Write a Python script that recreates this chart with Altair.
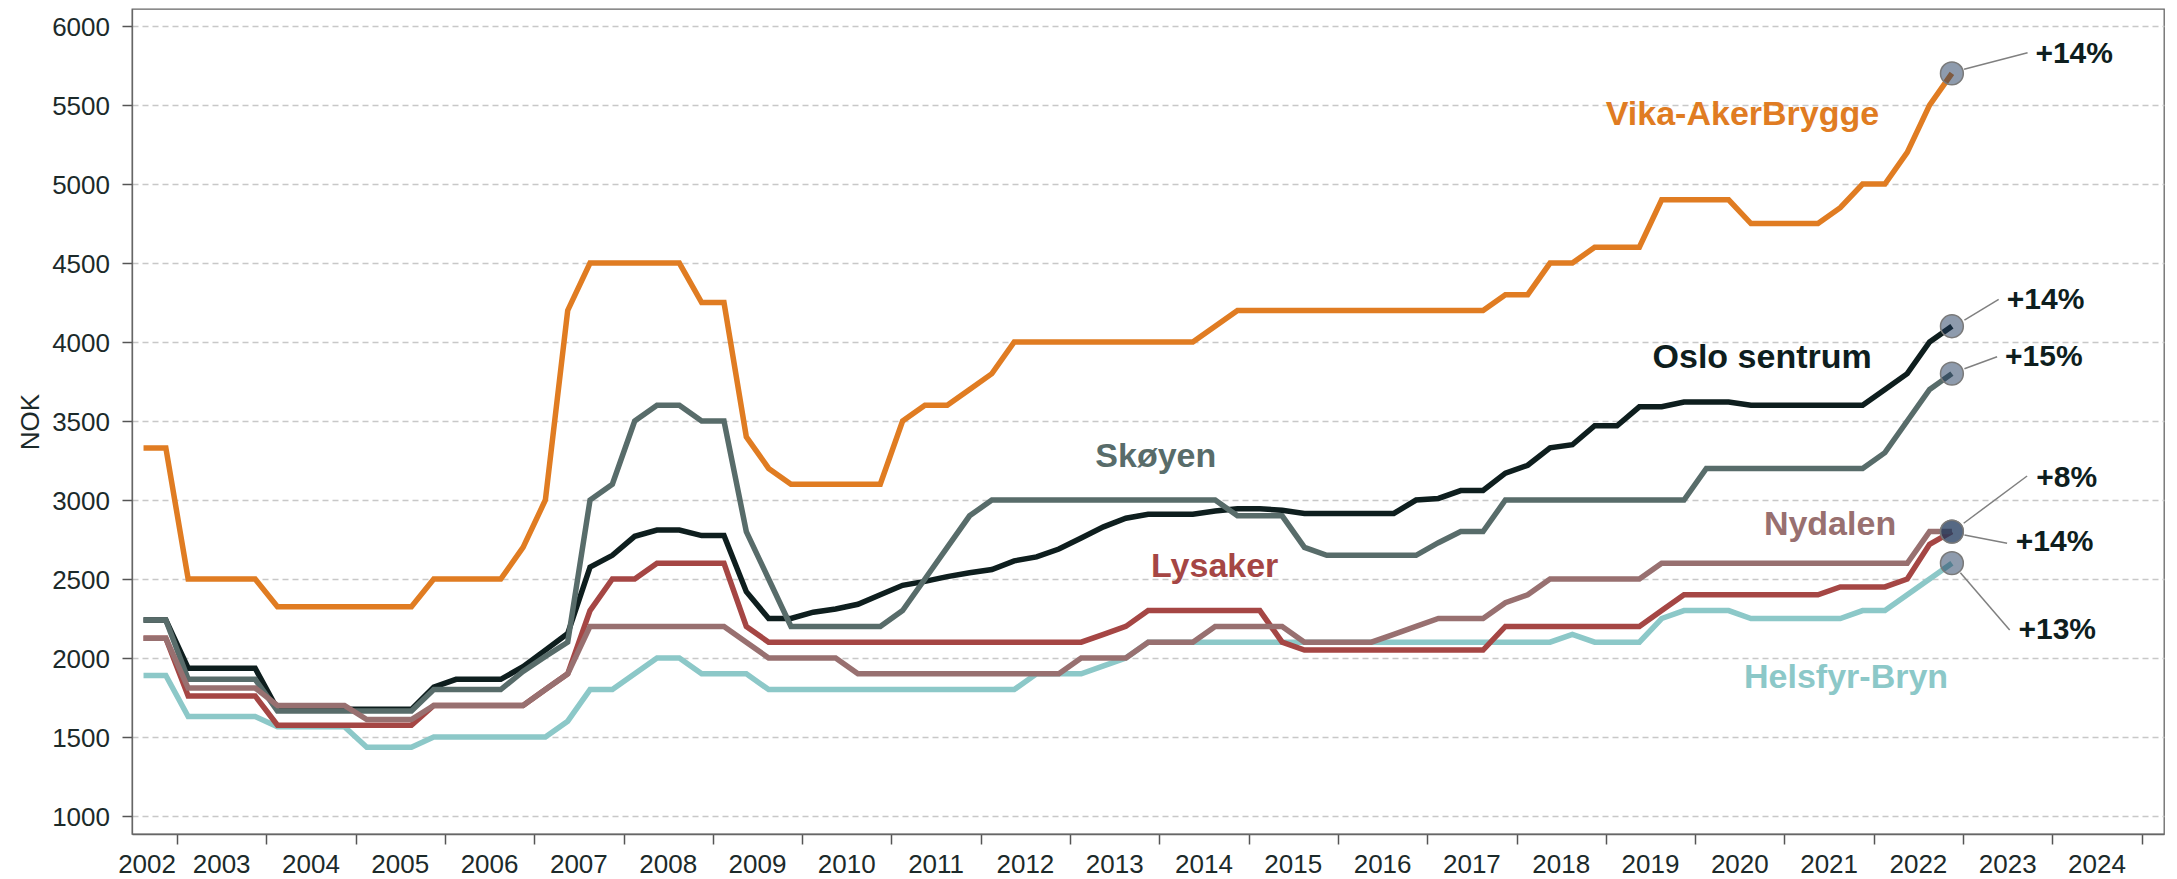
import altair as alt
import pandas as pd

# ---------------- data (quarterly, 2002Q3 .. 2022Q4) ----------------
periods = [(2002, 3), (2002, 4)] + [(y, q) for y in range(2003, 2023) for q in range(1, 5)]

vika = [3330, 3330,
        2500, 2500, 2500, 2500,
        2325, 2325, 2325, 2325, 2325, 2325, 2325,
        2500, 2500, 2500, 2500,
        2700, 3000, 4200,
        4500, 4500, 4500, 4500, 4500,
        4250, 4250, 3400, 3200,
        3100, 3100, 3100, 3100, 3100,
        3500, 3600, 3600, 3700, 3800,
        4000, 4000, 4000, 4000, 4000, 4000, 4000, 4000, 4000,
        4100,
        4200, 4200, 4200, 4200, 4200, 4200, 4200, 4200, 4200, 4200, 4200, 4200,
        4300, 4300, 4500, 4500, 4600, 4600, 4600,
        4900, 4900, 4900, 4900,
        4750, 4750, 4750, 4750,
        4850, 5000, 5000, 5200, 5500, 5700]

oslo = [2240, 2240,
        1935, 1935, 1935, 1935,
        1675, 1675, 1675, 1675, 1675, 1675, 1675,
        1815, 1865, 1865, 1865, 1945, 2050, 2155,
        2575, 2650, 2770, 2810, 2810, 2775, 2775, 2420,
        2250, 2250, 2290, 2310, 2340, 2400, 2460, 2485, 2515, 2540,
        2560, 2615, 2640, 2690, 2760, 2830, 2885, 2910, 2910, 2910,
        2930, 2945, 2945, 2935, 2915, 2915, 2915, 2915, 2915, 3000,
        3010, 3060, 3060, 3170, 3220, 3330, 3350, 3470, 3470, 3590,
        3590, 3620, 3620, 3620,
        3600, 3600, 3600, 3600, 3600, 3600,
        3700, 3800, 4000, 4100]

skoyen = [2240, 2240,
          1865, 1865, 1865, 1865,
          1665, 1665, 1665, 1665, 1665, 1665, 1665,
          1800, 1800, 1800, 1800,
          1915, 2010, 2100,
          3000, 3100, 3500, 3600, 3600, 3500, 3500,
          2800, 2500,
          2200, 2200, 2200, 2200, 2200,
          2300, 2500, 2700, 2900,
          3000, 3000, 3000, 3000, 3000, 3000, 3000, 3000, 3000, 3000, 3000,
          2900, 2900, 2900, 2700,
          2650, 2650, 2650, 2650, 2650,
          2730, 2800, 2800,
          3000, 3000, 3000, 3000, 3000, 3000, 3000, 3000, 3000,
          3200, 3200, 3200, 3200, 3200, 3200, 3200, 3200,
          3300, 3500, 3700, 3800]

lysaker = [2125, 2125,
           1760, 1760, 1760, 1760,
           1575, 1575, 1575, 1575, 1575, 1575, 1575,
           1700, 1700, 1700, 1700, 1700,
           1800, 1900, 2300, 2500, 2500,
           2600, 2600, 2600, 2600, 2200,
           2100, 2100, 2100, 2100, 2100, 2100, 2100, 2100, 2100, 2100,
           2100, 2100, 2100, 2100, 2100,
           2150, 2200,
           2300, 2300, 2300, 2300, 2300, 2300,
           2100,
           2050, 2050, 2050, 2050, 2050, 2050, 2050, 2050, 2050,
           2200, 2200, 2200, 2200, 2200, 2200, 2200,
           2300,
           2400, 2400, 2400, 2400, 2400, 2400, 2400,
           2450, 2450, 2450, 2500, 2720, 2800]

nydalen = [2125, 2125,
           1810, 1810, 1810, 1810,
           1700, 1700, 1700, 1700,
           1610, 1610, 1610,
           1700, 1700, 1700, 1700, 1700,
           1800, 1900,
           2200, 2200, 2200, 2200, 2200, 2200, 2200,
           2100,
           2000, 2000, 2000, 2000,
           1900, 1900, 1900, 1900, 1900, 1900, 1900, 1900, 1900, 1900,
           2000, 2000, 2000,
           2100, 2100, 2100,
           2200, 2200, 2200, 2200,
           2100, 2100, 2100, 2100,
           2150, 2200, 2250, 2250, 2250, 2350, 2400,
           2500, 2500, 2500, 2500, 2500,
           2600, 2600, 2600, 2600, 2600, 2600, 2600, 2600, 2600, 2600, 2600, 2600,
           2800, 2800]

helsfyr = [1890, 1890,
           1630, 1630, 1630, 1630,
           1565, 1565, 1565, 1565,
           1435, 1435, 1435,
           1500, 1500, 1500, 1500, 1500, 1500,
           1600, 1800, 1800, 1900, 2000, 2000,
           1900, 1900, 1900,
           1800, 1800, 1800, 1800, 1800, 1800, 1800, 1800, 1800, 1800, 1800, 1800,
           1900, 1900, 1900, 1950, 2000,
           2100, 2100, 2100, 2100, 2100, 2100, 2100, 2100, 2100, 2100,
           2100, 2100, 2100, 2100, 2100, 2100, 2100, 2100, 2100,
           2150, 2100, 2100, 2100,
           2250, 2300, 2300, 2300,
           2250, 2250, 2250, 2250, 2250,
           2300, 2300, 2400, 2500, 2600]

names = ["Vika-AkerBrygge", "Oslo sentrum", "Skøyen", "Helsfyr-Bryn", "Lysaker", "Nydalen"]
values = [vika, oslo, skoyen, helsfyr, lysaker, nydalen]
colors = ["#E07C22", "#0E1E1E", "#586C6A", "#8CC8C8", "#A54644", "#987070"]

for v in values:
    assert len(v) == len(periods), len(v)

# series name labels (anchor in data space)
name_t = [2020.53, 2020.75, 2013.96, 2021.69, 2014.62, 2021.51]
name_v = [5373, 3833, 3211, 1808, 2515, 2778]

# change annotations
pct_text = ["+14%", "+14%", "+15%", "+13%", "+14%", "+8%"]
lead_t1 = [2023.011, 2023.015, 2023.015, 2022.970, 2023.015, 2023.007]
lead_v1 = [5726, 4139, 3831, 2540, 2778, 2853]
lead_t2 = [2023.722, 2023.399, 2023.381, 2023.522, 2023.493, 2023.717]
lead_v2 = [5831, 4270, 3907, 2177, 2726, 3152]
pct_t = [2023.81, 2023.49, 2023.47, 2023.62, 2023.59, 2023.82]
pct_v = [5823, 4264, 3907, 2177, 2736, 3142]

year_labels = list(range(2002, 2025))

# ---------------- build tables ----------------
rows = []
for n, vals in zip(names, values):
    for (y, q), val in zip(periods, vals):
        rows.append({"series": n, "t": y + (q - 0.5) / 4, "v": val})
df = pd.DataFrame(rows)

end_df = pd.DataFrame({
    "series": names,
    "t": [periods[-1][0] + (periods[-1][1] - 0.5) / 4] * len(names),
    "v": [vals[-1] for vals in values],
})
lead_df = pd.DataFrame({"t": lead_t1, "v": lead_v1, "t2": lead_t2, "v2": lead_v2})
pct_df = pd.DataFrame({"t": pct_t, "v": pct_v, "label": pct_text})

W, H = 2032, 825
TXT = "#1C2A2A"

xscale = alt.Scale(domain=[2002.496, 2025.25], nice=False, zero=False)
yscale = alt.Scale(domain=[886, 6108], nice=False, zero=False)

x_axis = alt.Axis(values=list(range(2003, 2026)), labels=False, ticks=True, tickSize=10,
                  tickColor="#555555", tickWidth=1.5, domain=True, domainColor="#666666",
                  domainWidth=1.3, grid=False, title=None)
y_axis = alt.Axis(values=list(range(1000, 6001, 500)), format="d", grid=True, gridDash=[6, 4],
                  gridColor="#C8C8C8", gridWidth=1.7, labelFontSize=26, labelColor=TXT,
                  labelPadding=12.5, labelOffset=1.5, tickSize=10, tickColor="#555555",
                  tickWidth=1.5, domain=True, domainColor="#666666", domainWidth=1.3,
                  title="NOK", titleFontSize=26, titleFontWeight="normal", titleColor=TXT,
                  titleAngle=270, titleX=-94, titleY=412.5, titleAlign="center",
                  titleBaseline="alphabetic")

X = alt.X("t:Q", scale=xscale, axis=x_axis)
Y = alt.Y("v:Q", scale=yscale, axis=y_axis)

layers = []
for n, c in zip(names, colors):
    layers.append(
        alt.Chart(df[df.series == n]).mark_line(strokeWidth=5.5, color=c, strokeJoin="miter")
        .encode(x=X, y=Y)
    )

leaders = alt.Chart(lead_df).mark_rule(color="#808080", strokeWidth=1.5).encode(
    x=X, y=Y, x2="t2:Q", y2="v2:Q")

dots = alt.Chart(end_df).mark_circle(size=520, fill="#1E375C", fillOpacity=0.5,
                                     stroke="#7A7A7A", strokeWidth=1.5, opacity=1).encode(x=X, y=Y)

pct = alt.Chart(pct_df).mark_text(fontSize=30, fontWeight="bold", align="left",
                                  baseline="middle", color="#0E1E1E").encode(
    x=X, y=Y, text="label:N")

for n, c, tt, vv in zip(names, colors, name_t, name_v):
    layers.append(
        alt.Chart(pd.DataFrame({"t": [tt], "v": [vv], "label": [n]}))
        .mark_text(fontSize=34, fontWeight="bold", align="center", baseline="alphabetic", color=c)
        .encode(x=X, y=Y, text="label:N")
    )

# x tick labels, centred in each year (first one flush against the 2003 tick)
first = pd.DataFrame({"t": [year_labels[0] + 1], "label": [str(year_labels[0])]})
rest = pd.DataFrame({"t": [y + 0.5 for y in year_labels[1:]],
                     "label": [str(y) for y in year_labels[1:]]})
xl1 = alt.Chart(first).mark_text(fontSize=26, align="right", baseline="alphabetic",
                                 color=TXT, dx=-1).encode(
    x=X, y=alt.value(H + 39), text="label:N")
xl2 = alt.Chart(rest).mark_text(fontSize=26, align="center", baseline="alphabetic",
                                color=TXT).encode(
    x=X, y=alt.value(H + 39), text="label:N")

chart = alt.layer(*layers, leaders, dots, pct, xl1, xl2).properties(
    width=W, height=H,
    autosize=alt.AutoSizeParams(type="none"),
    padding={"left": 124, "top": 1, "right": 5, "bottom": 46},
).configure(font="Liberation Sans").configure_view(stroke="#666666", strokeWidth=1.3)

chart.save("out.html", embed_options={"renderer": "svg", "actions": False})
